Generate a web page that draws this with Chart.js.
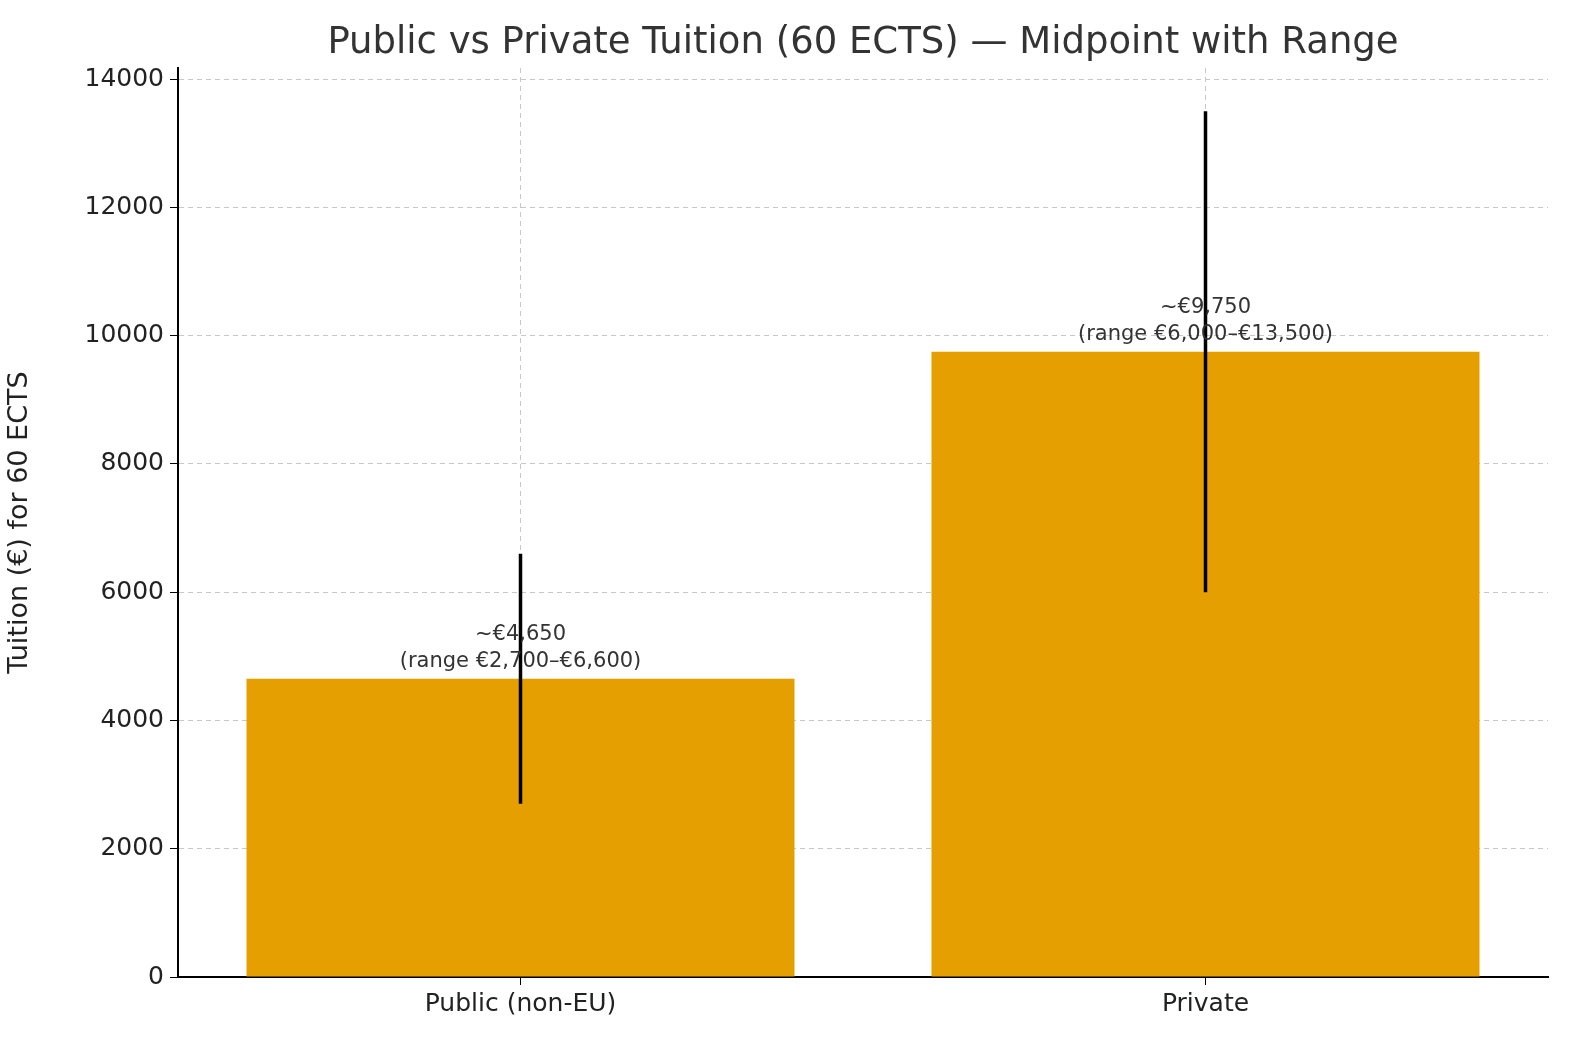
<!DOCTYPE html>
<html><head><meta charset="utf-8">
<script src="https://cdn.jsdelivr.net/npm/chart.js@4"></script>
<style>html,body{margin:0;padding:0;background:#fff;overflow:hidden}#c{display:block}</style>
</head><body>
<canvas id="c" width="1595" height="1057" style="width:1595px;height:1057px"></canvas>
<script>
const categories = ["Public (non-EU)", "Private"];
const midpoints = [4650, 9750];
const rangeLow = [2700, 6000];
const rangeHigh = [6600, 13500];
const labels1 = ["~€4,650", "~€9,750"];
const labels2 = ["(range €2,700–€6,600)", "(range €6,000–€13,500)"];
const yTicks = [0, 2000, 4000, 6000, 8000, 10000, 12000, 14000];
const F = "'DejaVu Sans', sans-serif";

const overlay = {
  id: 'overlay',
  afterDatasetsDraw(chart) {
    const ctx = chart.ctx, x = chart.scales.x, y = chart.scales.y;
    ctx.save();
    ctx.strokeStyle = '#000'; ctx.lineWidth = 3.5;
    categories.forEach((c, i) => {
      const px = x.getPixelForValue(i);
      ctx.beginPath(); ctx.moveTo(px, y.getPixelForValue(rangeLow[i])); ctx.lineTo(px, y.getPixelForValue(rangeHigh[i])); ctx.stroke();
    });
    ctx.fillStyle = '#333'; ctx.font = '21px ' + F; ctx.textAlign = 'center'; ctx.textBaseline = 'alphabetic';
    categories.forEach((c, i) => {
      const px = x.getPixelForValue(i), py = y.getPixelForValue(midpoints[i]);
      ctx.fillText(labels2[i], px, py - 12);
      ctx.fillText(labels1[i], px, py - 39);
    });
    ctx.fillStyle = '#333'; ctx.font = '37px ' + F;
    ctx.fillText('Public vs Private Tuition (60 ECTS) — Midpoint with Range', (chart.chartArea.left + chart.chartArea.right) / 2, 53);
    ctx.restore();
  }
};

new Chart(document.getElementById('c'), {
  type: 'bar',
  data: { labels: categories, datasets: [{ data: midpoints, backgroundColor: '#E69F00', barPercentage: 0.8, categoryPercentage: 1.0 }] },
  options: {
    responsive: false, devicePixelRatio: 1, animation: false,
    layout: { padding: { top: 68, right: 47, left: 0, bottom: 0 } },
    plugins: { legend: { display: false }, tooltip: { enabled: false } },
    scales: {
      x: {
        afterFit(s) { s.height = 80; },
        grid: { offset: false, color: '#c8c8c8', tickLength: 8, tickColor: '#000' },
        border: { color: '#000', width: 2, dash: [5, 4] },
        ticks: { color: '#222', font: { family: F, size: 25 }, padding: 4 }
      },
      y: {
        min: 0, max: 14175,
        afterFit(s) { s.width = 178; },
        afterBuildTicks(s) { s.ticks = yTicks.map(v => ({ value: v })); },
        grid: { color: '#c8c8c8', tickLength: 8, tickColor: '#000' },
        border: { color: '#000', width: 2, dash: [5, 4] },
        ticks: { color: '#222', font: { family: F, size: 25 }, padding: 6, callback: v => String(v) },
        title: { display: true, text: 'Tuition (€) for 60 ECTS', color: '#222', font: { family: F, size: 27 }, padding: { bottom: 10 } }
      }
    }
  },
  plugins: [overlay]
});
</script>
</body></html>
